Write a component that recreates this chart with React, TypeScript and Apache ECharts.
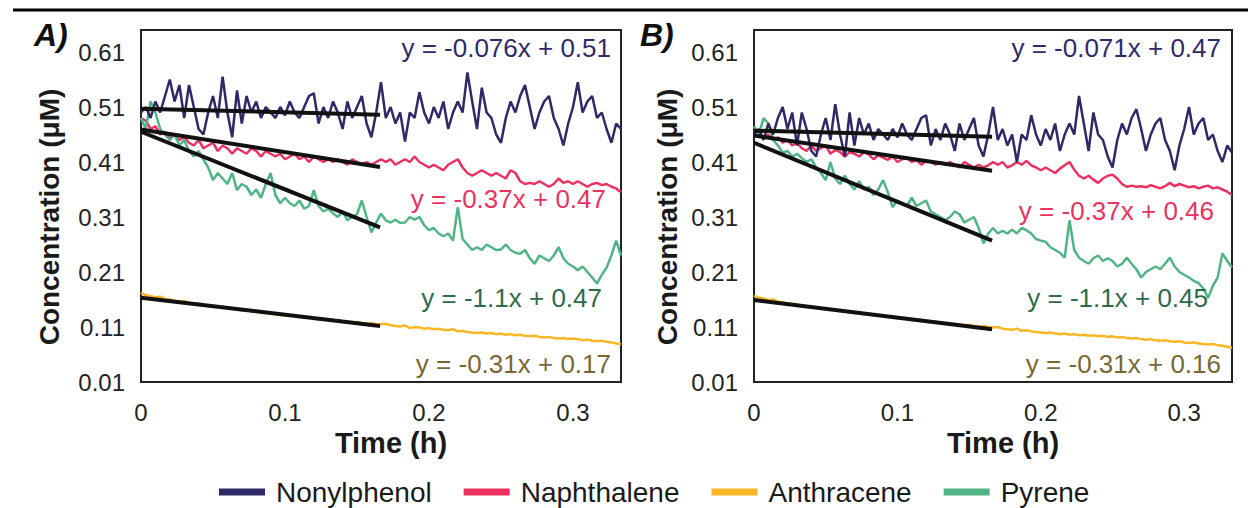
import React, { useEffect, useRef } from "react";
import * as echarts from "echarts";

// ---------- data ----------
const TIME_STEP_H = 1 / 300; // sampling step of the traces (h)
const X_MAX = 1 / 3;
const X_INTERVAL = 0.1;
const Y_MIN = 0.01;
const Y_MAX = 0.65;
const Y_INTERVAL = 0.1;

const SERIES_NAMES = ["Nonylphenol", "Naphthalene", "Anthracene", "Pyrene"];
const SERIES_COLORS = ["#2e2967", "#ec3160", "#fbb626", "#50b486"];
const EQUATION_COLORS = ["#2e2a6a", "#e8335f", "#7a6733", "#2f6b4b"];

// Panel A traces
const A_NONYL = [
  0.50, 0.51, 0.49, 0.52, 0.50, 0.53,
  0.56, 0.52, 0.55, 0.49, 0.55,
  0.51, 0.47, 0.46, 0.50,
  0.53, 0.49, 0.565,
  0.50, 0.455, 0.54,
  0.48, 0.53, 0.50, 0.52, 0.49,
  0.51, 0.50, 0.49, 0.51, 0.495,
  0.52, 0.50, 0.49, 0.51, 0.53,
  0.535, 0.48, 0.51, 0.49, 0.52,
  0.50, 0.47, 0.52, 0.49, 0.51,
  0.53, 0.48, 0.455, 0.50, 0.555,
  0.49, 0.51, 0.48, 0.50, 0.447,
  0.50, 0.49, 0.537, 0.50, 0.48,
  0.51, 0.49, 0.52, 0.47, 0.50,
  0.52, 0.50, 0.573, 0.52, 0.47,
  0.545, 0.50, 0.49, 0.46, 0.445,
  0.49, 0.52, 0.50, 0.53, 0.55,
  0.51, 0.47, 0.50, 0.52, 0.53,
  0.49, 0.47, 0.44, 0.48, 0.51,
  0.555, 0.50, 0.52, 0.53, 0.49,
  0.50, 0.47, 0.445, 0.48, 0.47,
];
const A_NAPH = [
  0.49, 0.485, 0.47, 0.475, 0.46, 0.465, 0.455, 0.46, 0.45, 0.455, 0.445,
  0.44, 0.45, 0.435, 0.44, 0.445, 0.43, 0.44, 0.435, 0.425, 0.435,
  0.43, 0.425, 0.435, 0.43, 0.42, 0.43, 0.425, 0.42, 0.425, 0.415,
  0.42, 0.425, 0.415, 0.42, 0.41, 0.42, 0.415, 0.41, 0.415, 0.41,
  0.415, 0.41, 0.405, 0.415, 0.41, 0.405, 0.41, 0.405, 0.41, 0.415,
  0.41, 0.415, 0.405, 0.41, 0.415, 0.41, 0.42, 0.41, 0.405, 0.40,
  0.405, 0.40, 0.395, 0.405, 0.41, 0.415, 0.40, 0.39, 0.385, 0.39,
  0.395, 0.39, 0.385, 0.39, 0.385, 0.38, 0.395, 0.39, 0.375, 0.37,
  0.372, 0.37, 0.375, 0.37, 0.365, 0.37, 0.38, 0.372, 0.375, 0.37,
  0.375, 0.37, 0.365, 0.37, 0.372, 0.368, 0.37, 0.365, 0.362, 0.355,
];
const A_ANTH = [
  0.172, 0.168, 0.166, 0.164, 0.165, 0.161, 0.16, 0.158, 0.156, 0.157, 0.154,
  0.152, 0.153, 0.15, 0.148, 0.149, 0.146, 0.147, 0.144, 0.143, 0.142,
  0.14, 0.141, 0.138, 0.139, 0.136, 0.135, 0.136, 0.133, 0.132, 0.131,
  0.13, 0.131, 0.128, 0.127, 0.128, 0.125, 0.124, 0.125, 0.122, 0.121,
  0.122, 0.12, 0.119, 0.118, 0.119, 0.117, 0.116, 0.117, 0.115, 0.115,
  0.116, 0.113, 0.112, 0.111, 0.113, 0.108, 0.11, 0.109, 0.107, 0.108,
  0.106, 0.107, 0.105, 0.104, 0.106, 0.102, 0.103, 0.101, 0.10, 0.099,
  0.10, 0.098, 0.099, 0.097, 0.098, 0.096, 0.097, 0.095, 0.096, 0.094,
  0.093, 0.094, 0.092, 0.091, 0.092, 0.09, 0.089, 0.09, 0.088, 0.089,
  0.088, 0.086, 0.087, 0.085, 0.084, 0.085, 0.083, 0.082, 0.08, 0.079,
];
const A_PYR = [
  0.49, 0.47, 0.52, 0.50, 0.47, 0.46,
  0.45, 0.46, 0.44, 0.45, 0.43,
  0.42, 0.43, 0.415, 0.40, 0.377,
  0.39, 0.38, 0.37, 0.39, 0.359,
  0.37, 0.365, 0.35, 0.36, 0.345,
  0.37, 0.39, 0.35, 0.335, 0.345,
  0.335, 0.33, 0.34, 0.325, 0.33,
  0.359, 0.33, 0.32, 0.325, 0.317,
  0.31, 0.32, 0.304, 0.31, 0.315,
  0.34, 0.31, 0.282, 0.30, 0.316,
  0.304, 0.30, 0.305, 0.299, 0.30,
  0.31, 0.305, 0.31, 0.295, 0.286,
  0.29, 0.28, 0.275, 0.28, 0.267,
  0.328, 0.27, 0.26, 0.25, 0.255,
  0.25, 0.26, 0.255, 0.25, 0.251,
  0.26, 0.25, 0.245, 0.243, 0.25,
  0.235, 0.225, 0.24, 0.235, 0.23,
  0.24, 0.255, 0.235, 0.225, 0.22,
  0.213, 0.22, 0.21, 0.20, 0.189,
  0.205, 0.218, 0.24, 0.267, 0.24,
];

// Panel B traces
const B_NONYL = [
  0.46, 0.47, 0.45, 0.48, 0.46, 0.49,
  0.51, 0.47, 0.50, 0.44, 0.50,
  0.47, 0.43, 0.42, 0.46,
  0.49, 0.45, 0.515,
  0.46, 0.42, 0.50,
  0.44, 0.49, 0.46, 0.48, 0.45,
  0.47, 0.46, 0.45, 0.47, 0.455,
  0.48, 0.46, 0.45, 0.47, 0.49,
  0.495, 0.44, 0.47, 0.45, 0.48,
  0.46, 0.43, 0.48, 0.45, 0.47,
  0.49, 0.44, 0.42, 0.46, 0.51,
  0.45, 0.47, 0.44, 0.46, 0.41,
  0.46, 0.45, 0.495, 0.46, 0.44,
  0.47, 0.45, 0.48, 0.43, 0.46,
  0.48, 0.46, 0.53, 0.48, 0.43,
  0.50, 0.46, 0.45, 0.42, 0.40,
  0.45, 0.48, 0.46, 0.49, 0.506,
  0.47, 0.43, 0.46, 0.48, 0.49,
  0.45, 0.43, 0.395, 0.44, 0.47,
  0.51, 0.46, 0.48, 0.49, 0.45,
  0.46, 0.43, 0.41, 0.44, 0.427,
];
const B_NAPH = [
  0.47, 0.465, 0.455, 0.46, 0.45, 0.455, 0.445, 0.45, 0.44, 0.445, 0.435,
  0.43, 0.44, 0.43, 0.435, 0.44, 0.425, 0.432, 0.428, 0.42, 0.428,
  0.425, 0.42, 0.428, 0.424, 0.415, 0.422, 0.418, 0.414, 0.42, 0.41,
  0.415, 0.418, 0.41, 0.414, 0.405, 0.412, 0.41, 0.405, 0.41, 0.405,
  0.41, 0.405, 0.40, 0.41, 0.405, 0.40, 0.405, 0.40, 0.404, 0.41,
  0.405, 0.41, 0.40, 0.404, 0.41, 0.405, 0.412, 0.404, 0.40, 0.395,
  0.40, 0.395, 0.39, 0.398, 0.404, 0.41, 0.396, 0.385, 0.38, 0.385,
  0.378, 0.372, 0.38, 0.385, 0.387, 0.38, 0.37, 0.365, 0.367, 0.365,
  0.366, 0.364, 0.368, 0.365, 0.362, 0.366, 0.372, 0.366, 0.37, 0.367,
  0.364, 0.366, 0.362, 0.365, 0.367, 0.362, 0.364, 0.36, 0.356, 0.35,
];
const B_ANTH = [
  0.167, 0.163, 0.162, 0.159, 0.16, 0.156, 0.155, 0.153, 0.152, 0.151, 0.149,
  0.147, 0.148, 0.145, 0.143, 0.144, 0.141, 0.142, 0.139, 0.138, 0.137,
  0.135, 0.136, 0.133, 0.134, 0.131, 0.13, 0.131, 0.128, 0.127, 0.126,
  0.125, 0.126, 0.123, 0.122, 0.123, 0.12, 0.119, 0.12, 0.117, 0.116,
  0.117, 0.115, 0.114, 0.113, 0.114, 0.112, 0.111, 0.112, 0.11, 0.109,
  0.11, 0.107, 0.106, 0.105, 0.107, 0.103, 0.104, 0.102, 0.101, 0.1,
  0.099, 0.1, 0.098, 0.097, 0.098, 0.096, 0.097, 0.095, 0.096, 0.094,
  0.095, 0.093, 0.094, 0.092, 0.093, 0.091, 0.092, 0.09, 0.089, 0.09,
  0.088, 0.087, 0.088, 0.086, 0.085, 0.086, 0.084, 0.083, 0.084, 0.082,
  0.081, 0.082, 0.08, 0.079, 0.078, 0.079, 0.077, 0.076, 0.074, 0.072,
];
const B_PYR = [
  0.475, 0.46, 0.49, 0.48, 0.45, 0.44,
  0.427, 0.43, 0.42, 0.425, 0.417,
  0.41, 0.415, 0.40, 0.39, 0.377,
  0.41, 0.38, 0.37, 0.385, 0.37,
  0.36, 0.375, 0.36, 0.365, 0.35,
  0.36, 0.377, 0.355, 0.328, 0.34,
  0.335, 0.33, 0.345, 0.33, 0.335,
  0.34, 0.32, 0.315, 0.31, 0.304,
  0.31, 0.32, 0.315, 0.30, 0.305,
  0.31, 0.29, 0.262, 0.28, 0.29,
  0.28, 0.285, 0.28, 0.287, 0.28,
  0.29, 0.286, 0.28, 0.27, 0.267,
  0.265, 0.255, 0.25, 0.245, 0.236,
  0.304, 0.25, 0.236, 0.23, 0.225,
  0.235, 0.24, 0.23, 0.235, 0.23,
  0.22, 0.225, 0.236, 0.225, 0.215,
  0.20, 0.21, 0.215, 0.22, 0.215,
  0.225, 0.236, 0.22, 0.21, 0.205,
  0.20, 0.194, 0.19, 0.18, 0.163,
  0.185, 0.2, 0.244, 0.23, 0.218,
];

// Linear fits (start / end of the fitted window)
const TREND_T = [0, 0.166];
const A_TREND_NONYL = [0.507, 0.496];
const A_TREND_NAPH = [0.469, 0.401];
const A_TREND_ANTH = [0.163, 0.112];
const A_TREND_PYR = [0.465, 0.291];
const B_TREND_NONYL = [0.467, 0.456];
const B_TREND_NAPH = [0.458, 0.394];
const B_TREND_ANTH = [0.159, 0.106];
const B_TREND_PYR = [0.445, 0.267];

// Fit equations (order: Nonylphenol, Naphthalene, Anthracene, Pyrene)
const A_EQUATIONS = ["y = -0.076x + 0.51", "y = -0.37x + 0.47", "y = -0.31x + 0.17", "y = -1.1x + 0.47"];
const B_EQUATIONS = ["y = -0.071x + 0.47", "y = -0.37x + 0.46", "y = -0.31x + 0.16", "y = -1.1x + 0.45"];

const PANEL_LABELS = ["A)", "B)"];
const X_TITLE = "Time (h)";
const Y_TITLE = "Concentration (μM)";

// ---------- layout / style ----------
const FONT = "'Liberation Sans', Arial, Helvetica, sans-serif";
const GRIDS = [
  { left: 141, top: 30, width: 480, height: 352 },
  { left: 754, top: 30, width: 478, height: 352 },
];
const EQ_POS = [
  // [rightX, centerY] per equation, per panel
  [[611, 48], [606, 199], [611, 364], [602, 298]],
  [[1221, 48], [1214, 211], [1221, 364], [1208, 298]],
];

const toPairs = (vals: number[]) => vals.map((v, i) => [i * TIME_STEP_H, v]);
const trendPairs = (vals: number[]) => vals.map((v, i) => [TREND_T[i], v]);

export default function App() {
  const ref = useRef<HTMLDivElement>(null);

  useEffect(() => {
    if (!ref.current) return;
    const chart = echarts.init(ref.current, undefined, { renderer: "svg" });

    const panels = [
      { traces: [A_NONYL, A_NAPH, A_ANTH, A_PYR], trends: [A_TREND_NONYL, A_TREND_NAPH, A_TREND_ANTH, A_TREND_PYR], eqs: A_EQUATIONS },
      { traces: [B_NONYL, B_NAPH, B_ANTH, B_PYR], trends: [B_TREND_NONYL, B_TREND_NAPH, B_TREND_ANTH, B_TREND_PYR], eqs: B_EQUATIONS },
    ];

    const series: any[] = [];
    const drawOrder = [2, 1, 3, 0];
    panels.forEach((p, pi) => {
      drawOrder.forEach((k) => {
        series.push({
          type: "line",
          name: SERIES_NAMES[k],
          xAxisIndex: pi,
          yAxisIndex: pi,
          data: toPairs(p.traces[k]),
          showSymbol: false,
          symbol: "none",
          color: SERIES_COLORS[k],
          lineStyle: { width: 2.5, color: SERIES_COLORS[k] },
          z: 2,
          silent: true,
        });
      });
      p.trends.forEach((tr, k) => {
        series.push({
          type: "line",
          name: "fit-" + pi + "-" + k,
          xAxisIndex: pi,
          yAxisIndex: pi,
          data: trendPairs(tr),
          showSymbol: false,
          symbol: "none",
          color: "#111",
          lineStyle: { width: 4, color: "#111" },
          z: 3,
          silent: true,
        });
      });
    });

    const graphic: any[] = [
      { type: "line", shape: { x1: 13, y1: 10, x2: 1248, y2: 10 }, style: { stroke: "#000", lineWidth: 3 } },
      { type: "text", x: 34, y: 19, style: { text: PANEL_LABELS[0], font: `italic bold 32px ${FONT}`, fill: "#111" } },
      { type: "text", x: 640, y: 19, style: { text: PANEL_LABELS[1], font: `italic bold 32px ${FONT}`, fill: "#111" } },
    ];
    panels.forEach((p, pi) => {
      p.eqs.forEach((eq, k) => {
        graphic.push({
          type: "text",
          x: EQ_POS[pi][k][0],
          y: EQ_POS[pi][k][1],
          z: 10,
          style: {
            text: eq,
            font: `26px ${FONT}`,
            fill: EQUATION_COLORS[k],
            align: "right",
            verticalAlign: "middle",
          },
        });
      });
    });

    const xAxis = GRIDS.map((_, i) => ({
      type: "value",
      gridIndex: i,
      min: 0,
      max: X_MAX,
      interval: X_INTERVAL,
      axisLine: { show: false },
      axisTick: { show: false },
      splitLine: { show: false },
      axisLabel: {
        fontSize: 24,
        fontFamily: FONT,
        color: "#222",
        margin: 18,
        showMaxLabel: false,
        formatter: (v: number) => (v === 0 ? "0" : v.toFixed(1)),
      },
      name: X_TITLE,
      nameLocation: "middle",
      nameGap: 45,
      nameTextStyle: { fontSize: 29, fontWeight: "bold", fontFamily: FONT, color: "#1a1a1a", padding: [0, 0, 0, 20] },
    }));

    const yAxis = GRIDS.map((_, i) => ({
      type: "value",
      gridIndex: i,
      min: Y_MIN,
      max: Y_MAX,
      interval: Y_INTERVAL,
      axisLine: { show: false },
      axisTick: { show: false },
      splitLine: { show: false },
      axisLabel: {
        fontSize: 24,
        fontFamily: FONT,
        color: "#222",
        margin: 16,
        showMaxLabel: false,
        formatter: (v: number) => v.toFixed(2),
      },
      name: Y_TITLE,
      nameLocation: "middle",
      nameGap: i === 0 ? 78 : 73,
      nameRotate: 90,
      nameTextStyle: { fontSize: 28, fontWeight: "bold", fontFamily: FONT, color: "#1a1a1a", padding: [0, 22, 0, 0] },
    }));

    chart.setOption({
      animation: false,
      backgroundColor: "#ffffff",
      grid: GRIDS.map((g) => ({
        ...g,
        show: true,
        borderColor: "#222",
        borderWidth: 2,
        backgroundColor: "transparent",
        containLabel: false,
      })),
      xAxis,
      yAxis,
      legend: {
        data: SERIES_NAMES,
        left: 214,
        top: 473,
        icon: "rect",
        itemWidth: 46,
        itemHeight: 7,
        itemGap: 32,
        selectedMode: false,
        textStyle: { fontSize: 28, fontFamily: FONT, color: "#1a1a1a", padding: [0, 0, 0, 6] },
      },
      series,
      graphic,
    });

    return () => chart.dispose();
  }, []);

  return (
    <div
      ref={ref}
      style={{ position: "fixed", left: 0, top: 0, width: 1248, height: 508, background: "#fff" }}
    />
  );
}
